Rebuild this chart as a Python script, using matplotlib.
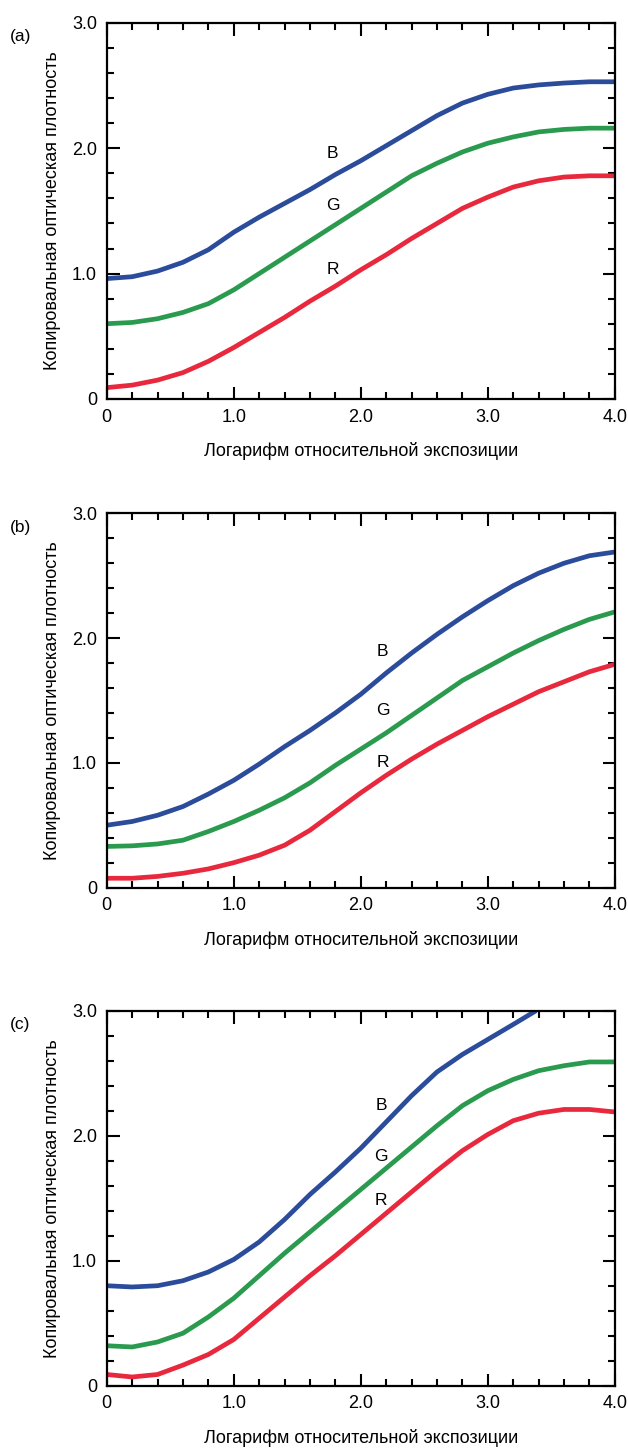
import numpy as np
import matplotlib
matplotlib.use('Agg')
import matplotlib.pyplot as plt
from matplotlib.ticker import MultipleLocator

plt.rcParams['font.family'] = ['Liberation Sans', 'DejaVu Sans']

# log exposure grid used when reading the curves
x_grid = [0.0, 0.2, 0.4, 0.6, 0.8, 1.0, 1.2, 1.4, 1.6, 1.8, 2.0,
          2.2, 2.4, 2.6, 2.8, 3.0, 3.2, 3.4, 3.6, 3.8, 4.0]

# panel (a)
a_blue = [0.96, 0.975, 1.02, 1.09, 1.19, 1.33, 1.45, 1.56, 1.67, 1.79, 1.90,
          2.02, 2.14, 2.26, 2.36, 2.43, 2.48, 2.505, 2.52, 2.53, 2.53]
a_green = [0.60, 0.61, 0.64, 0.69, 0.76, 0.87, 1.00, 1.13, 1.26, 1.39, 1.52,
           1.65, 1.78, 1.88, 1.97, 2.04, 2.09, 2.13, 2.15, 2.16, 2.16]
a_red = [0.09, 0.11, 0.15, 0.21, 0.30, 0.41, 0.53, 0.65, 0.78, 0.90, 1.03,
         1.15, 1.28, 1.40, 1.52, 1.61, 1.69, 1.74, 1.77, 1.78, 1.78]

# panel (b)
b_blue = [0.50, 0.53, 0.58, 0.65, 0.75, 0.86, 0.99, 1.13, 1.26, 1.40, 1.55,
          1.72, 1.88, 2.03, 2.17, 2.30, 2.42, 2.52, 2.60, 2.66, 2.69]
b_green = [0.33, 0.335, 0.35, 0.38, 0.45, 0.53, 0.62, 0.72, 0.84, 0.98, 1.11,
           1.24, 1.38, 1.52, 1.66, 1.77, 1.88, 1.98, 2.07, 2.15, 2.21]
b_red = [0.075, 0.075, 0.09, 0.115, 0.15, 0.20, 0.26, 0.34, 0.46, 0.61, 0.76,
         0.90, 1.03, 1.15, 1.26, 1.37, 1.47, 1.57, 1.65, 1.73, 1.79]

# panel (c) - blue leaves the frame at 3.0
c_blue_x = [0.0, 0.2, 0.4, 0.6, 0.8, 1.0, 1.2, 1.4, 1.6, 1.8, 2.0,
            2.2, 2.4, 2.6, 2.8, 3.0, 3.2, 3.38]
c_blue = [0.80, 0.79, 0.80, 0.84, 0.91, 1.01, 1.15, 1.33, 1.53, 1.71, 1.90,
          2.11, 2.32, 2.51, 2.65, 2.77, 2.89, 3.0]
c_green = [0.32, 0.31, 0.35, 0.42, 0.55, 0.70, 0.88, 1.06, 1.23, 1.40, 1.57,
           1.74, 1.91, 2.08, 2.24, 2.36, 2.45, 2.52, 2.56, 2.59, 2.59]
c_red = [0.09, 0.07, 0.09, 0.165, 0.25, 0.37, 0.54, 0.71, 0.88, 1.04, 1.21,
         1.38, 1.55, 1.72, 1.88, 2.01, 2.12, 2.18, 2.21, 2.21, 2.19]

panel_tags = ['(a)', '(b)', '(c)']
curve_names = ['B', 'G', 'R']
label_x = [1.78, 2.17, 2.16]
label_y = [[1.96, 1.54, 1.03], [1.89, 1.42, 1.00], [2.24, 1.83, 1.48]]

xticks = [0, 1.0, 2.0, 3.0, 4.0]
xticklabels = ['0', '1.0', '2.0', '3.0', '4.0']
yticks = [0, 1.0, 2.0, 3.0]
yticklabels = ['0', '1.0', '2.0', '3.0']

xlabel = 'Логарифм относительной экспозиции'
ylabel = 'Копировальная оптическая плотность'

col_b = '#2b4c9b'
col_g = '#2a9a4e'
col_r = '#e8283c'

panels = [
    [(x_grid, a_blue), (x_grid, a_green), (x_grid, a_red)],
    [(x_grid, b_blue), (x_grid, b_green), (x_grid, b_red)],
    [(c_blue_x, c_blue), (x_grid, c_green), (x_grid, c_red)],
]
boxes = [
    [0.170, 0.7245, 0.809, 0.2597],
    [0.170, 0.3870, 0.809, 0.2585],
    [0.170, 0.0430, 0.809, 0.2590],
]

fig = plt.figure(figsize=(6.28, 14.48), dpi=100)

for i in range(3):
    ax = fig.add_axes(boxes[i])
    for (xs, ys), c in zip(panels[i], [col_b, col_g, col_r]):
        ax.plot(xs, ys, color=c, lw=3.4, solid_capstyle='butt',
                solid_joinstyle='round')
    for name, yy in zip(curve_names, label_y[i]):
        ax.text(label_x[i], yy, name, fontsize=12.5, ha='center', va='center')
    ax.set_xlim(0, 4.0)
    ax.set_ylim(0, 3.0)
    ax.set_xticks(xticks)
    ax.set_xticklabels(xticklabels)
    ax.set_yticks(yticks)
    ax.set_yticklabels(yticklabels)
    ax.xaxis.set_minor_locator(MultipleLocator(0.2))
    ax.yaxis.set_minor_locator(MultipleLocator(0.2))
    ax.tick_params(which='both', direction='in', top=True, right=True,
                   width=1.5, labelsize=13)
    ax.tick_params(which='major', length=9, pad=7)
    ax.tick_params(which='minor', length=5)
    for s in ax.spines.values():
        s.set_linewidth(1.6)
    ax.set_xlabel(xlabel, fontsize=13, labelpad=12)
    ax.set_ylabel(ylabel, fontsize=13, labelpad=8)
    top = boxes[i][1] + boxes[i][3]
    fig.text(10 / 628, top - 0.0045, panel_tags[i], fontsize=12.5,
             ha='left', va='top')

fig.savefig('out.png', dpi=100)
